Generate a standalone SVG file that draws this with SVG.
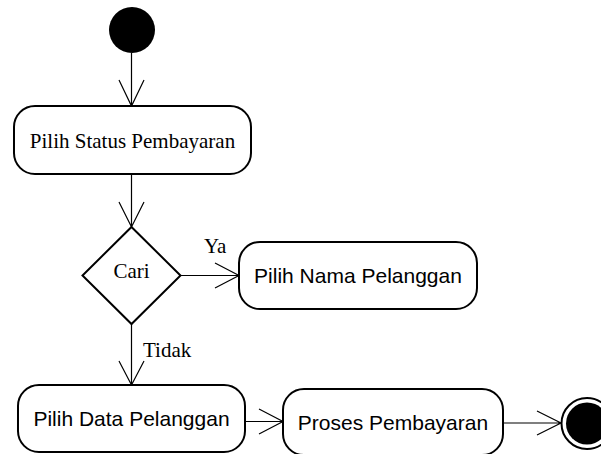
<svg xmlns="http://www.w3.org/2000/svg" width="601" height="454" viewBox="0 0 601 454">
<style>
.box{fill:#fff;stroke:#000;stroke-width:2}
.edge{fill:none;stroke:#000;stroke-width:1.2}
.serif{font-family:"Liberation Serif","Times New Roman",serif;font-size:21px;fill:#000}
.sans{font-family:"Liberation Sans",Arial,sans-serif;font-size:21px;fill:#000}
</style>
<rect width="601" height="454" fill="#fff"/>
<g id="connectors">
  <path class="edge" d="M131.5,53 V106 M119,80 L131.5,106 L144,80"/>
  <path class="edge" d="M131.5,174 V227 M119,202 L131.5,227 L144,202"/>
  <path class="edge" d="M181,275.5 H239 M215,263 L239,275.5 L215,288"/>
  <path class="edge" d="M131.5,324 V385 M119,361 L131.5,385 L144,361"/>
  <path class="edge" d="M245,421.5 H283 M259,409 L283,421.5 L259,434"/>
  <path class="edge" d="M503,423 H561 M537,411 L561,423 L537,435"/>
  <text class="serif" x="204" y="253">Ya</text>
  <text class="serif" x="143" y="357">Tidak</text>
</g>
<g id="start">
  <circle cx="132" cy="30" r="23" fill="#000"/>
</g>
<g id="pilih-status">
  <rect class="box" x="14" y="106" width="237" height="68" rx="21" ry="21"/>
  <text class="serif" x="132.5" y="147.5" text-anchor="middle">Pilih Status Pembayaran</text>
</g>
<g id="cari">
  <polygon class="box" points="131.5,227 180.5,275.5 131.5,324 82.5,275.5" stroke-width="1.8"/>
  <text class="serif" x="131.5" y="278" text-anchor="middle">Cari</text>
</g>
<g id="pilih-nama">
  <rect class="box" x="239" y="242" width="238" height="67" rx="21" ry="21"/>
  <text class="sans" x="358" y="283" text-anchor="middle">Pilih Nama Pelanggan</text>
</g>
<g id="pilih-data">
  <rect class="box" x="18" y="385" width="227" height="67" rx="21" ry="21"/>
  <text class="sans" x="131.5" y="426" text-anchor="middle">Pilih Data Pelanggan</text>
</g>
<g id="proses">
  <rect class="box" x="283" y="389" width="220" height="66" rx="21" ry="21"/>
  <text class="sans" x="393" y="430" text-anchor="middle">Proses Pembayaran</text>
</g>
<g id="end">
  <circle cx="587" cy="423.5" r="25.5" fill="#fff" stroke="#000" stroke-width="2"/>
  <circle cx="587" cy="423.5" r="21" fill="#000"/>
</g>
</svg>
